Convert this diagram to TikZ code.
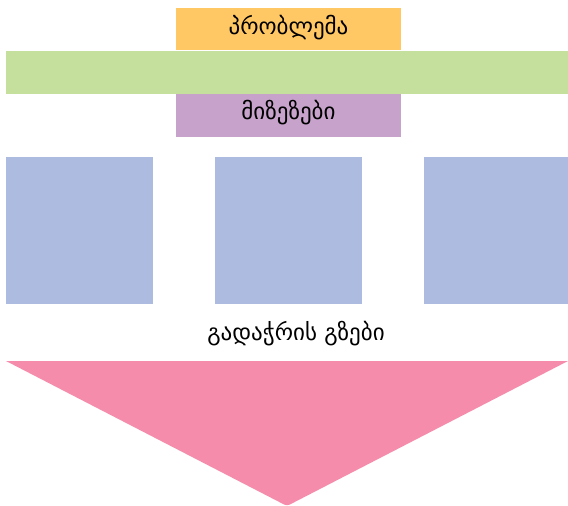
\documentclass[tikz,border=0pt]{standalone}
\usepackage{fontspec}
\newfontfamily\geofont[Script=Georgian]{DejaVu Sans}
\definecolor{orangebox}{HTML}{FFC864}
\definecolor{greenbar}{HTML}{C5DF9D}
\definecolor{purplebox}{HTML}{C7A3CC}
\definecolor{bluebox}{HTML}{AEBBE0}
\definecolor{pinktri}{HTML}{F58CAB}
\tikzset{
  box/.style={draw=none, inner sep=0pt, outer sep=0pt, anchor=north west},
  lbl/.style={font=\geofont\fontsize{23}{27}\selectfont, text=black}
}
\begin{document}
\begin{tikzpicture}[x=1pt,y=-1pt]
\useasboundingbox (0,0) rectangle (568,506);
\node[box, fill=orangebox, minimum width=225pt, minimum height=42pt] (prob) at (176,8) {};
\node[lbl] (probt) at (288.5,28) {პრობლემა};
\node[box, fill=greenbar, minimum width=562pt, minimum height=43pt] (bar) at (6,51) {};
\node[box, fill=purplebox, minimum width=225pt, minimum height=43pt] (cause) at (176,94) {};
\node[lbl] (causet) at (288.5,113) {მიზეზები};
\node[box, fill=bluebox, minimum width=147pt, minimum height=147pt] (b1) at (6,157) {};
\node[box, fill=bluebox, minimum width=147pt, minimum height=147pt] (b2) at (215,157) {};
\node[box, fill=bluebox, minimum width=144pt, minimum height=147pt] (b3) at (424,157) {};
\node[lbl] (sol) at (296,334) {გადაჭრის გზები};
\coordinate (tl) at (6,361);
\coordinate (tr) at (568,361);
\coordinate (tb) at (287,506);
\fill[pinktri] (tl) -- (tr) [rounded corners=3pt] -- (tb) [sharp corners] -- cycle;
\end{tikzpicture}
\end{document}
